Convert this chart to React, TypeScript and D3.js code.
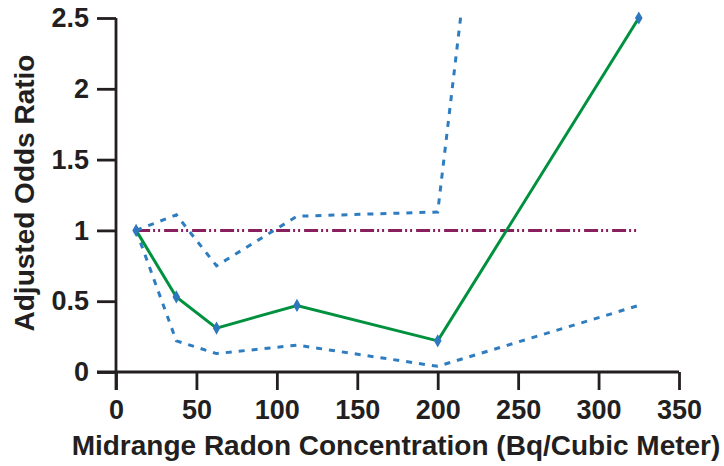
import React, { useRef, useEffect } from 'react'
import * as d3 from 'd3'

// midrange radon concentration (Bq/m3)
const radon = [12.5, 37.5, 62.5, 112.5, 200, 325]
const oddsRatio = [1.0, 0.53, 0.31, 0.47, 0.22, 2.5]
const upperCI = [1.0, 1.11, 0.75, 1.1, 1.13, 13.2]
const lowerCI = [1.0, 0.22, 0.13, 0.19, 0.04, 0.47]
const refLine = [1, 1]
const refX = [12.5, 325]

const xTicks = [0, 50, 100, 150, 200, 250, 300, 350]
const yTicks = [0, 0.5, 1, 1.5, 2, 2.5]

const W = 724
const H = 466
const FONT = 'Liberation Sans, Arial, sans-serif'
const INK = '#231f20'

const App = () => {
    const svgRef = useRef<SVGSVGElement>(null)

    useEffect(() => {
        document.body.style.margin = '0'
        const svg = d3.select(svgRef.current)
        svg.selectAll('*').remove()

        const x = d3.scaleLinear().domain([0, 350]).range([116, 679])
        const y = d3.scaleLinear().domain([0, 2.5]).range([372, 18])

        svg.append('defs')
            .append('clipPath')
            .attr('id', 'plot-clip')
            .append('rect')
            .attr('x', x(0))
            .attr('y', y(2.5) - 1)
            .attr('width', x(350) - x(0))
            .attr('height', y(0) - y(2.5) + 20)

        // axes
        const xAxis = svg.append('g')
            .attr('transform', `translate(0,${y(0)})`)
            .call(d3.axisBottom(x).tickValues(xTicks).tickSize(18).tickPadding(10).tickSizeOuter(0))
        const yAxis = svg.append('g')
            .attr('transform', `translate(${x(0)},0)`)
            .call(d3.axisLeft(y).tickValues(yTicks).tickSize(19).tickPadding(8).tickSizeOuter(0)
                .tickFormat(d => String(d)))

        for (const ax of [xAxis, yAxis]) {
            ax.select('.domain').attr('stroke', INK).attr('stroke-width', 2.8)
            ax.selectAll('.tick line').attr('stroke', INK).attr('stroke-width', 2.8)
            ax.selectAll('.tick text')
                .attr('fill', INK)
                .style('font-family', FONT)
                .style('font-size', '27px')
                .style('font-weight', 'bold')
        }
        // extend the axis lines through the crossing ticks
        xAxis.select('.domain').attr('d', `M${x(0) - 19},0H${x(350)}`)
        yAxis.select('.domain').attr('d', `M0,${y(2.5)}V${y(0) + 18}`)

        // reference line at 1
        const refData = refX.map((v, i) => [v, refLine[i]] as [number, number])
        svg.append('path')
            .datum(refData)
            .attr('fill', 'none')
            .attr('stroke', '#8a1f5e')
            .attr('stroke-width', 3)
            .attr('stroke-dasharray', '14,3,2,3,2,4')
            .attr('d', d3.line<[number, number]>().x(d => x(d[0])).y(d => y(d[1])))

        const line = d3.line<number>()
            .x((d, i) => x(radon[i]))

        // confidence limits
        svg.append('g')
            .attr('clip-path', 'url(#plot-clip)')
            .selectAll('.ci')
            .data([upperCI, lowerCI])
            .join('path')
            .attr('class', 'ci')
            .attr('fill', 'none')
            .attr('stroke', '#2f7dc1')
            .attr('stroke-width', 3)
            .attr('stroke-dasharray', '6,7')
            .attr('d', d => line.y(v => y(v))(d))

        // adjusted odds ratio
        svg.append('path')
            .datum(oddsRatio)
            .attr('fill', 'none')
            .attr('stroke', '#00913f')
            .attr('stroke-width', 3)
            .attr('d', line.y(v => y(v)))

        svg.selectAll('.pt')
            .data(oddsRatio)
            .join('path')
            .attr('class', 'pt')
            .attr('fill', '#2f77bd')
            .attr('transform', (d, i) => `translate(${x(radon[i])},${y(d)})`)
            .attr('d', d3.symbol(d3.symbolDiamond, 50))

        // axis titles
        svg.append('text')
            .attr('x', 396)
            .attr('y', 455)
            .attr('text-anchor', 'middle')
            .attr('fill', INK)
            .style('font-family', FONT)
            .style('font-size', '28px')
            .style('font-weight', 'bold')
            .text('Midrange Radon Concentration (Bq/Cubic Meter)')

        svg.append('text')
            .attr('transform', `translate(34,193) rotate(-90)`)
            .attr('text-anchor', 'middle')
            .attr('fill', INK)
            .style('font-family', FONT)
            .style('font-size', '28px')
            .style('font-weight', 'bold')
            .text('Adjusted Odds Ratio')
    }, [])

    return (
        <svg ref={svgRef} width={W} height={H} style={{ display: 'block', backgroundColor: 'white' }}></svg>
    )
}

export default App
